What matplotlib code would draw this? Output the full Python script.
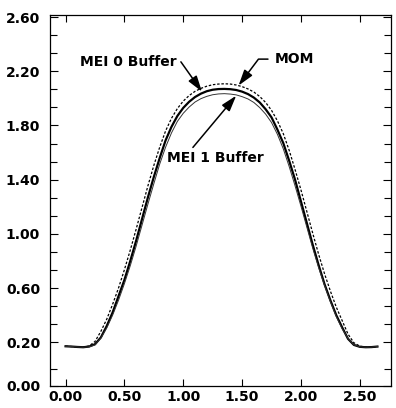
import matplotlib
matplotlib.use("Agg")
import matplotlib.pyplot as plt
from matplotlib.ticker import FixedLocator

# sample positions along the horizontal axis
x_pos = [0.00, 0.05, 0.10, 0.15, 0.20, 0.25, 0.30, 0.35, 0.40, 0.45,
         0.50, 0.55, 0.60, 0.65, 0.70, 0.75, 0.80, 0.85, 0.90, 0.95,
         1.00, 1.05, 1.10, 1.15, 1.20, 1.25, 1.30, 1.35, 1.40, 1.45,
         1.50, 1.55, 1.60, 1.65, 1.70, 1.75, 1.80, 1.85, 1.90, 1.95,
         2.00, 2.05, 2.10, 2.15, 2.20, 2.25, 2.30, 2.35, 2.40, 2.45,
         2.50, 2.55, 2.60, 2.65]

# MEI 0 Buffer (solid)
mei0 = [0.170, 0.168, 0.165, 0.163, 0.168, 0.185, 0.235, 0.320, 0.420, 0.540,
        0.660, 0.800, 0.950, 1.110, 1.270, 1.420, 1.560, 1.690, 1.790, 1.870,
        1.930, 1.975, 2.010, 2.035, 2.053, 2.064, 2.069, 2.070, 2.068, 2.062,
        2.050, 2.032, 2.006, 1.970, 1.920, 1.860, 1.770, 1.670, 1.540, 1.400,
        1.240, 1.080, 0.920, 0.770, 0.630, 0.510, 0.400, 0.310, 0.225, 0.180,
        0.166, 0.163, 0.164, 0.168]

# MOM (dashed, outer)
mom = [0.170, 0.168, 0.165, 0.164, 0.172, 0.205, 0.280, 0.370, 0.480, 0.600,
       0.735, 0.880, 1.035, 1.195, 1.355, 1.505, 1.640, 1.760, 1.853, 1.925,
       1.980, 2.021, 2.052, 2.074, 2.090, 2.101, 2.106, 2.108, 2.106, 2.099,
       2.087, 2.070, 2.047, 2.014, 1.970, 1.912, 1.835, 1.740, 1.617, 1.475,
       1.325, 1.165, 1.005, 0.850, 0.707, 0.578, 0.460, 0.360, 0.260, 0.196,
       0.171, 0.164, 0.163, 0.167]

# MEI 1 Buffer (thin, inner)
mei1 = [0.170, 0.168, 0.165, 0.163, 0.166, 0.180, 0.230, 0.305, 0.400, 0.510,
        0.632, 0.765, 0.910, 1.065, 1.220, 1.370, 1.515, 1.640, 1.745, 1.830,
        1.890, 1.936, 1.973, 1.998, 2.015, 2.027, 2.033, 2.035, 2.032, 2.026,
        2.013, 1.996, 1.970, 1.932, 1.884, 1.822, 1.735, 1.628, 1.497, 1.355,
        1.205, 1.050, 0.895, 0.752, 0.620, 0.500, 0.390, 0.300, 0.228, 0.182,
        0.166, 0.163, 0.164, 0.168]

x_ticks = [0.0, 0.5, 1.0, 1.5, 2.0, 2.5]
x_labels = ["0.00", "0.50", "1.00", "1.50", "2.00", "2.50"]
y_bottom = -0.123
y_ticks = [y_bottom, 0.2, 0.6, 1.0, 1.4, 1.8, 2.2, 2.6]
y_labels = ["0.00", "0.20", "0.60", "1.00", "1.40", "1.80", "2.20", "2.60"]
y_minor = [2.6 - k * 0.4 / 3 for k in range(19)] + [0.0]

font = dict(family="DejaVu Sans", weight="bold", size=10)

fig = plt.figure(figsize=(3.96, 4.08), dpi=100)
ax = fig.add_axes([0.126, 0.054, 0.861, 0.909])

ax.plot(x_pos, mom, color="black", lw=0.9, linestyle=(0, (2.0, 1.4)))
ax.plot(x_pos, mei0, color="black", lw=1.6)
ax.plot(x_pos, mei1, color="#333333", lw=0.7)

ax.set_xlim(-0.133, 2.764)
ax.set_ylim(y_bottom, 2.615)

ax.set_xticks(x_ticks)
ax.set_xticklabels(x_labels, fontdict=font)
ax.set_yticks(y_ticks)
ax.set_yticklabels(y_labels, fontdict=font)
ax.yaxis.set_minor_locator(FixedLocator(y_minor))

ax.tick_params(axis="both", which="both", direction="in", top=True, right=True,
               width=0.8, color="black")
ax.tick_params(axis="x", which="major", length=5, pad=3)
ax.tick_params(axis="y", which="major", length=6, pad=7)
ax.tick_params(axis="y", which="minor", length=5)
for sp in ax.spines.values():
    sp.set_linewidth(0.9)

arrow = dict(arrowstyle="-|>,head_length=0.8,head_width=0.25", color="black",
             lw=1.1, shrinkA=0, shrinkB=0, mutation_scale=12)

ax.text(0.947, 2.27, "MEI 0 Buffer", ha="right", va="center", fontdict=font)
ax.annotate("", xy=(1.159, 2.05), xytext=(0.98, 2.27), arrowprops=arrow)

ax.text(1.777, 2.29, "MOM", ha="left", va="center", fontdict=font)
ax.annotate("", xy=(1.47, 2.095), xytext=(1.72, 2.29),
            arrowprops=dict(arrow, connectionstyle="angle,angleA=0,angleB=53,rad=0"))

ax.text(1.27, 1.558, "MEI 1 Buffer", ha="center", va="center", fontdict=font)
ax.annotate("", xy=(1.45, 2.02), xytext=(1.082, 1.638), arrowprops=arrow)

fig.savefig("out.png", dpi=100)
